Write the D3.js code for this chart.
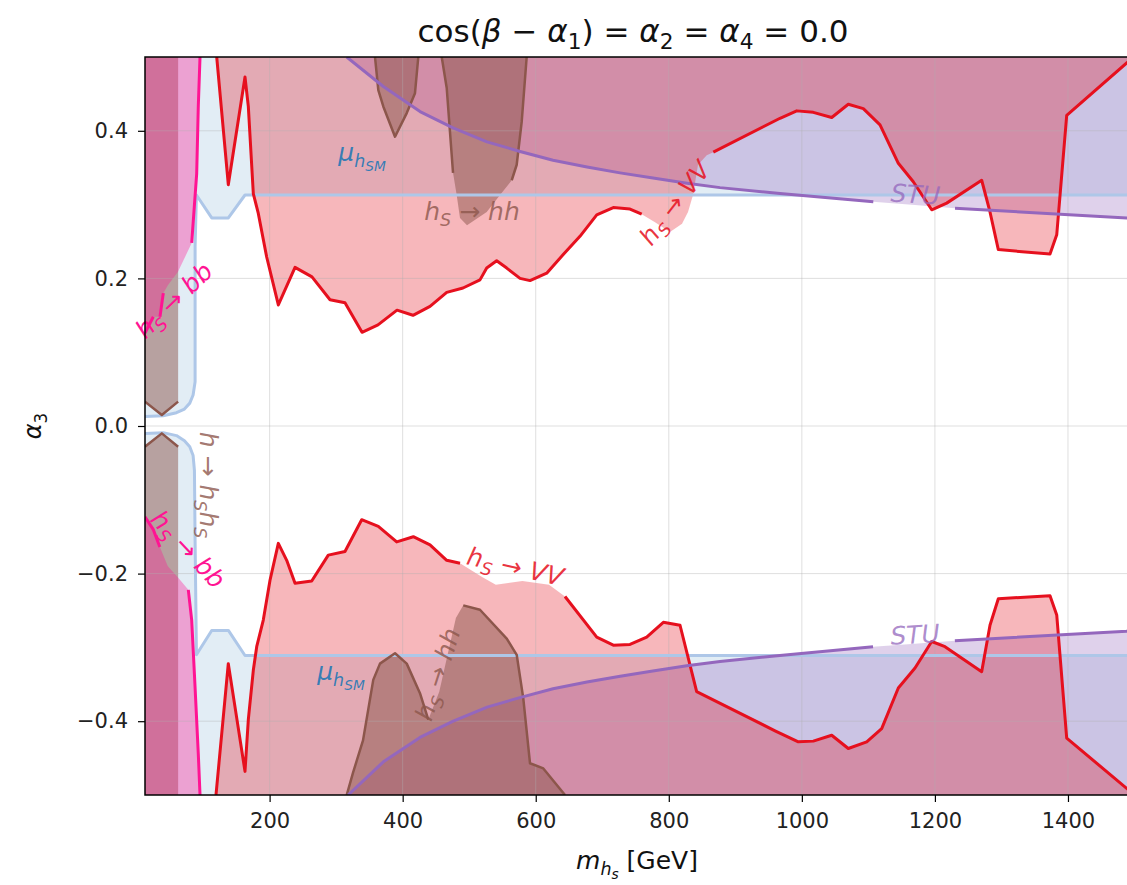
<!DOCTYPE html>
<html lang="en">
<head>
<meta charset="utf-8">
<title>alpha3 vs m_hs</title>
<script src="https://cdn.jsdelivr.net/npm/d3@7"></script>
<style>
  body { margin: 0; background: #fff; }
  text { font-family: "DejaVu Sans", sans-serif; }
</style>
</head>
<body>
<div id="chart"></div>
<script>
// ---- data (m_hs in GeV, alpha3) ----
var xTicks = [200, 400, 600, 800, 1000, 1200, 1400]
var yTicks = [-0.4, -0.2, 0.0, 0.2, 0.4]

// mu_hSM boundary
var muUpper = [[12.7,0.013],[40,0.014],[60,0.018],[72,0.023],[80,0.031],[85,0.042],[88,0.06],[88,0.243],[90,0.313],[113,0.282],[138,0.282],[163,0.313],[1500,0.313]]
var muLower = [[12.7,-0.01],[40,-0.009],[60,-0.013],[72,-0.02],[80,-0.028],[85,-0.04],[87,-0.06],[88,-0.155],[90,-0.31],[113,-0.277],[138,-0.277],[163,-0.311],[1500,-0.311]]

// h -> hs hs boundary (only open below m_h/2)
var hshsUpper = [[12.7,0.033],[38,0.015],[62.5,0.033]]
var hshsLower = [[12.7,-0.028],[38,-0.01],[62.5,-0.028]]

// hs -> bb boundary
var bbUpper = [[12.7,0.126],[25.2,0.148],[35.2,0.148],[40.2,0.18],[47.3,0.191],[62.3,0.209],[82.9,0.248],[86.8,0.297],[90.4,0.342],[92.8,0.433],[95.4,0.5]]
var bbLower = [[12.7,-0.123],[25,-0.14],[35,-0.164],[47,-0.19],[62,-0.205],[77.8,-0.222],[82.9,-0.263],[87.9,-0.353],[92.8,-0.444],[95.4,-0.5]]

// hs -> VV boundary
var vvUpper = [[120.5,0.5],[137.9,0.327],[163,0.473],[168,0.433],[175.5,0.315],[183,0.288],[195.6,0.229],[213.1,0.164],[238.2,0.215],[263.7,0.202],[290.8,0.171],[313.3,0.167],[338.9,0.127],[362.9,0.137],[391.5,0.157],[415.5,0.15],[441.1,0.162],[466.2,0.181],[490.7,0.187],[516.2,0.198],[526.3,0.214],[541.3,0.224],[556.4,0.214],[576.4,0.2],[591.4,0.197],[616.5,0.207],[641,0.232],[666.5,0.257],[691.7,0.286],[716.6,0.296],[741.7,0.294],[759.3,0.287],[779.3,0.276],[801.8,0.263],[819.9,0.274],[828.9,0.29],[836.4,0.313],[843.9,0.354],[857,0.367],[866.9,0.371],[967.2,0.417],[992.3,0.427],[1017.2,0.425],[1044.9,0.418],[1069.8,0.436],[1092.4,0.43],[1117.5,0.408],[1145,0.356],[1167.5,0.331],[1195.2,0.293],[1217.7,0.302],[1270.3,0.333],[1282.8,0.29],[1295.3,0.239],[1373,0.233],[1383.1,0.259],[1398.1,0.421],[1488.3,0.492],[1500,0.5]]
var vvLower = [[119.4,-0.5],[137.9,-0.322],[163,-0.468],[168,-0.398],[175.5,-0.331],[180.6,-0.299],[190.5,-0.263],[200.6,-0.209],[213.1,-0.159],[225.7,-0.182],[238.2,-0.213],[263.3,-0.21],[288.2,-0.175],[313.3,-0.17],[338.4,-0.127],[363.4,-0.136],[391,-0.157],[416,-0.15],[441.1,-0.161],[466.2,-0.182],[486.2,-0.186],[520,-0.205],[540,-0.215],[580,-0.21],[620,-0.215],[644,-0.231],[691.7,-0.286],[716.6,-0.297],[741.7,-0.296],[766.8,-0.286],[791.8,-0.266],[816.9,-0.27],[841.9,-0.36],[959.7,-0.413],[994.7,-0.428],[1017.2,-0.427],[1044.9,-0.419],[1069.8,-0.437],[1097.5,-0.428],[1120,-0.41],[1145,-0.355],[1170.1,-0.328],[1195.2,-0.292],[1215.2,-0.299],[1270.3,-0.333],[1282.8,-0.27],[1295.3,-0.234],[1373,-0.23],[1383.1,-0.256],[1398.1,-0.423],[1488.3,-0.491],[1500,-0.5]]

// hs -> hh boundaries
var hhUpperA = [[358.4,0.5],[363.4,0.455],[370.9,0.433],[388.5,0.392],[406.1,0.424],[418.5,0.451],[423.5,0.5]]
var hhUpperB = [[458.7,0.5],[466.2,0.458],[475.7,0.343],[481.2,0.313],[486.2,0.282],[496.7,0.272],[526.3,0.29],[546.3,0.313],[563.9,0.333],[571.4,0.354],[578.9,0.412],[586.4,0.5]]
var hhLower = [[315.9,-0.5],[325.3,-0.47],[340.4,-0.426],[355.8,-0.344],[365.9,-0.322],[388.5,-0.308],[406.1,-0.322],[426,-0.362],[438.5,-0.398],[455,-0.36],[470,-0.3],[480,-0.26],[491.1,-0.243],[516.2,-0.249],[556.4,-0.288],[571.4,-0.31],[581.3,-0.369],[591.4,-0.457],[611.4,-0.464],[644,-0.5]]

// STU boundary
var stuUpper = [[315.9,0.5],[370.9,0.46],[426.1,0.426],[475.7,0.404],[526.7,0.385],[576.4,0.372],[626,0.36],[677.1,0.351],[726.7,0.343],[776.3,0.336],[827.4,0.329],[877,0.323],[967.2,0.315],[1107.4,0.304],[1170,0.2995],[1230.2,0.295],[1488.3,0.282],[1500,0.281]]
var stuLower = [[318,-0.5],[371,-0.455],[426,-0.422],[476,-0.4],[527,-0.381],[576,-0.368],[626,-0.356],[677,-0.347],[727,-0.339],[776,-0.332],[827,-0.325],[877,-0.319],[967,-0.311],[1107,-0.299],[1170,-0.295],[1230,-0.291],[1488,-0.278],[1500,-0.277]]

// ---- drawing ----
var w = 1127
var h = 885

var svg = d3.select("#chart").append("svg")
    .attr("width", w)
    .attr("height", h)

var xScale = d3.scaleLinear().domain([12.7, 1500]).range([145, 1134.5])
var yScale = d3.scaleLinear().domain([-0.5, 0.5]).range([795, 57])

svg.append("clipPath").attr("id", "plotclip")
    .append("rect")
    .attr("x", 145).attr("y", 57)
    .attr("width", 990).attr("height", 738)

var plot = svg.append("g").attr("clip-path", "url(#plotclip)")

var line = d3.line()
    .x(function(d) { return xScale(d[0]) })
    .y(function(d) { return yScale(d[1]) })

// close a boundary towards the top / bottom of the plot
function closeUp(pts) {
    return pts.concat([[pts[pts.length - 1][0], 0.6], [pts[0][0], 0.6]])
}
function closeDown(pts) {
    return pts.concat([[pts[pts.length - 1][0], -0.6], [pts[0][0], -0.6]])
}

function fillArea(pts, color, op) {
    plot.append("path")
        .attr("d", line(pts) + "Z")
        .attr("fill", color)
        .attr("fill-opacity", op)
}

// split a contour into visible pieces, leaving gaps where labels sit
function runs(pts, gaps) {
    var out = [], cur = [pts[0]]
    for (var i = 1; i < pts.length; i++) {
        var mid = (pts[i - 1][0] + pts[i][0]) / 2
        var hidden = gaps.some(function(g) { return mid > g[0] && mid < g[1] })
        if (hidden) {
            if (cur.length > 1) out.push(cur)
            cur = [pts[i]]
        } else {
            cur.push(pts[i])
        }
    }
    if (cur.length > 1) out.push(cur)
    return out
}

function strokeLine(pts, gaps, color, width, op) {
    runs(pts, gaps).forEach(function(r) {
        plot.append("path")
            .attr("d", line(r))
            .attr("fill", "none")
            .attr("stroke", color)
            .attr("stroke-width", width)
            .attr("stroke-opacity", op || 1)
            .attr("stroke-linejoin", "round")
    })
}

var cBlue = "#1f77b4", cBlueLine = "#aec7e8"
var cBrown = "#8c564b"
var cPink = "#ff1493"
var cRed = "#e6101e"
var cPurple = "#9467bd"

// fills (purple under red so the overlap stays pink)
fillArea(closeUp(muUpper), cBlue, 0.13)
fillArea(closeDown(muLower), cBlue, 0.13)
fillArea(closeUp(hshsUpper), cBrown, 0.5)
fillArea(closeDown(hshsLower), cBrown, 0.5)
fillArea(closeUp(bbUpper), cPink, 0.35)
fillArea(closeDown(bbLower), cPink, 0.35)
fillArea(closeUp(stuUpper), cPurple, 0.3)
fillArea(closeDown(stuLower), cPurple, 0.3)
fillArea(closeUp(vvUpper), cRed, 0.3)
fillArea(closeDown(vvLower), cRed, 0.3)
fillArea(closeUp(hhUpperA), cBrown, 0.5)
fillArea(closeUp(hhUpperB), cBrown, 0.5)
fillArea(closeDown(hhLower), cBrown, 0.5)

// grid
var grid = plot.append("g")
xTicks.forEach(function(t) {
    grid.append("line").attr("x1", xScale(t)).attr("x2", xScale(t))
        .attr("y1", 57).attr("y2", 795)
        .attr("stroke", "#b0b0b0").attr("stroke-opacity", 0.4).attr("stroke-width", 1)
})
yTicks.forEach(function(t) {
    grid.append("line").attr("x1", 145).attr("x2", 1135)
        .attr("y1", yScale(t)).attr("y2", yScale(t))
        .attr("stroke", "#b0b0b0").attr("stroke-opacity", 0.4).attr("stroke-width", 1)
})

// contour lines
strokeLine(muUpper, [], cBlueLine, 3)
strokeLine(muLower, [], cBlueLine, 3)
strokeLine(hshsUpper, [], cBrown, 2.5)
strokeLine(hshsLower, [], cBrown, 2.5)
strokeLine(bbUpper, [[28, 33], [42, 80]], cPink, 3)
strokeLine(bbLower, [[35, 77]], cPink, 3)
strokeLine(vvUpper, [[759.3, 866.9]], cRed, 3)
strokeLine(vvLower, [[486.2, 644]], cRed, 3)
strokeLine(hhUpperA, [], cBrown, 2.5)
strokeLine(hhUpperB, [[475.7, 563.9]], cBrown, 2.5)
strokeLine(hhLower, [[438.5, 491.1]], cBrown, 2.5)
strokeLine(stuUpper, [[1107.4, 1230.2]], cPurple, 3)
strokeLine(stuLower, [[1107, 1230]], cPurple, 3)

// text with italic parts and sub / subsub levels: [text, italic, level]
function mathText(sel, parts, size) {
    var shift = 0
    var offs = [0, 0.24, 0.4], scl = [1, 0.7, 0.55]
    parts.forEach(function(p) {
        var lvl = p[2] || 0
        var t = sel.append("tspan")
            .text(p[0])
            .attr("font-size", size * scl[lvl])
            .attr("dy", (offs[lvl] - shift) * size)
        if (p[1]) t.attr("font-style", "italic")
        shift = offs[lvl]
    })
}

// contour labels
var curveLabels = [
    { parts: [["μ",1,0],["h",1,1],["SM",1,2]], at: [338.9, 0.359], rot: 0, color: cBlue, op: 0.9 },
    { parts: [["μ",1,0],["h",1,1],["SM",1,2]], at: [307.3, -0.344], rot: 0, color: cBlue, op: 0.9 },
    { parts: [["h",1,0],["S",1,1],[" → ",0,0],["hh",1,0]], at: [504.2, 0.279], rot: 0, color: cBrown, op: 0.8 },
    { parts: [["h",1,0],["S",1,1],[" → ",0,0],["hh",1,0]], at: [465.1, -0.34], rot: -72, color: cBrown, op: 0.8 },
    { parts: [["h",1,0],["S",1,1],[" → ",0,0],["VV",1,0]], at: [819.4, 0.295], rot: -52, color: cRed, op: 0.85 },
    { parts: [["h",1,0],["S",1,1],[" → ",0,0],["VV",1,0]], at: [566.3, -0.202], rot: 13, color: cRed, op: 0.85 },
    { parts: [["STU",1,0]], at: [1170, 0.302], rot: 3.5, color: cPurple, op: 0.75 },
    { parts: [["STU",1,0]], at: [1171, -0.2945], rot: -3.5, color: cPurple, op: 0.75 },
    { parts: [["h",1,0],["S",1,1],[" → ",0,0],["bb",1,0]], at: [65.3, 0.162], rot: -44, color: cPink, op: 1 },
    { parts: [["h",1,0],["S",1,1],[" → ",0,0],["bb",1,0]], at: [67.9, -0.175], rot: 47, color: cPink, op: 1 },
    { parts: [["h",1,0],[" → ",0,0],["h",1,0],["S",1,1],["h",1,0],["S",1,1]], at: [95.4, -0.08], rot: 90, color: cBrown, op: 0.8 }
]

curveLabels.forEach(function(l) {
    var t = svg.append("text")
        .attr("transform", "translate(" + xScale(l.at[0]) + "," + yScale(l.at[1]) + ") rotate(" + l.rot + ")")
        .attr("text-anchor", "middle")
        .attr("dy", "0.35em")
        .attr("fill", l.color)
        .attr("fill-opacity", l.op)
    mathText(t, l.parts, 25)
})

// axes
var xAxis = d3.axisBottom(xScale).tickValues(xTicks).tickSize(7).tickPadding(11)
    .tickFormat(d3.format("d"))
var yAxis = d3.axisLeft(yScale).tickValues(yTicks).tickSize(7).tickPadding(10)
    .tickFormat(d3.format(".1f"))

var gx = svg.append("g").attr("transform", "translate(0,795)").call(xAxis)
var gy = svg.append("g").attr("transform", "translate(145,0)").call(yAxis)
;[gx, gy].forEach(function(g) {
    g.select(".domain").remove()
    g.selectAll("line").attr("stroke", "#000").attr("stroke-width", 1.2)
    g.selectAll("text").attr("font-size", 21).attr("fill", "#222")
        .style("font-family", "'DejaVu Sans', sans-serif")
})

// frame
svg.append("rect")
    .attr("x", 145).attr("y", 57)
    .attr("width", 990).attr("height", 738)
    .attr("fill", "none")
    .attr("stroke", "#000")
    .attr("stroke-width", 1.5)

// title and axis titles
var title = svg.append("text").attr("x", 633).attr("y", 42)
    .attr("text-anchor", "middle").attr("fill", "#111")
mathText(title, [["cos(",0,0],["β",1,0],[" − ",0,0],["α",1,0],["1",0,1],[") = ",0,0],["α",1,0],["2",0,1],[" = ",0,0],["α",1,0],["4",0,1],[" = 0.0",0,0]], 31)

var xl = svg.append("text").attr("x", 637).attr("y", 869)
    .attr("text-anchor", "middle").attr("fill", "#111")
mathText(xl, [["m",1,0],["h",1,1],["s",1,2],[" [GeV]",0,0]], 25)

var yl = svg.append("text").attr("transform", "translate(41,426) rotate(-90)")
    .attr("text-anchor", "middle").attr("fill", "#111")
mathText(yl, [["α",1,0],["3",0,1]], 24)
</script>
</body>
</html>
